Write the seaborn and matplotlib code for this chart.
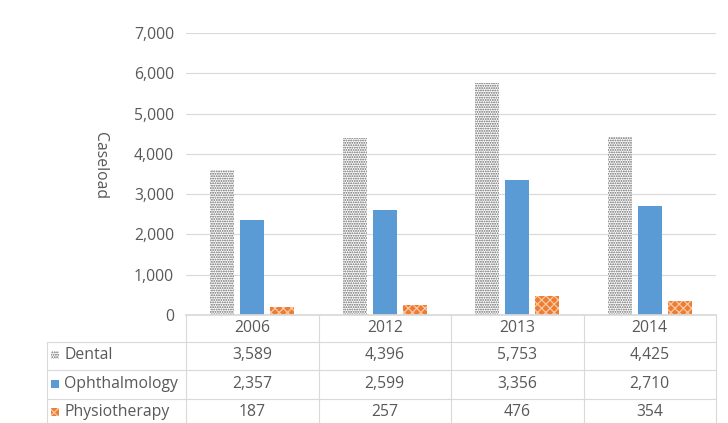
import matplotlib
matplotlib.use("Agg")
import matplotlib.pyplot as plt
import matplotlib.transforms as mtransforms
from matplotlib.patches import Rectangle
import seaborn as sns
import pandas as pd
import numpy as np

years = ["2006", "2012", "2013", "2014"]
series = ["Dental", "Ophthalmology", "Physiotherapy"]
dental = [3589, 4396, 5753, 4425]
ophthalmology = [2357, 2599, 3356, 2710]
physiotherapy = [187, 257, 476, 354]
y_ticks = [0, 1000, 2000, 3000, 4000, 5000, 6000, 7000]
y_label = "Caseload"

df = pd.DataFrame({
    "Year": years * 3,
    "Series": [s for s in series for _ in years],
    "Value": dental + ophthalmology + physiotherapy,
})

sns.set_theme(style="white")
plt.rcParams["font.family"] = ["Open Sans", "DejaVu Sans"]
plt.rcParams["hatch.linewidth"] = 0.9
TXT = "#595959"
FS = 11.3

fig = plt.figure(figsize=(7.28, 4.23), dpi=100)
W, H = 728, 423
AX_L, AX_R = 186, 716
ax = fig.add_axes([AX_L / W, 1 - 315 / H, (AX_R - AX_L) / W, (315 - 33) / H])

palette = {"Dental": "white", "Ophthalmology": "#5B9BD5", "Physiotherapy": "#ED7D31"}
sns.barplot(data=df, x="Year", y="Value", hue="Series", order=years, hue_order=series,
            palette=palette, ax=ax, width=0.68, gap=0.2, legend=False, saturation=1)

DENT_EC = "#666666"
PHYS_EC = "#F9C9A8"
for i, c in enumerate(ax.containers):
    for p in c:
        p.set_linewidth(0)
        if i == 0:
            p.set_facecolor("white")
            p.set_edgecolor(DENT_EC)
            p.set_hatch(".......")
        elif i == 2:
            p.set_facecolor("#ED7D31")
            p.set_edgecolor(PHYS_EC)
            p.set_hatch("xxxx")

ax.set_ylim(0, 7000)
ax.set_yticks(y_ticks)
ax.set_yticklabels([f"{v:,}" for v in y_ticks], color=TXT, fontsize=FS)
ax.tick_params(axis="y", length=0, pad=8.5)
ax.set_xlim(-0.5, len(years) - 0.5)
ax.set_xticks([])
ax.set_xlabel("")
ax.set_ylabel(y_label, rotation=270, color=TXT, fontsize=FS)
ax.yaxis.set_label_coords(-0.178, 0.53)
ax.grid(axis="y", color="#d9d9d9", linewidth=0.8)
ax.set_axisbelow(True)
for s in ["top", "right", "left"]:
    ax.spines[s].set_visible(False)
ax.spines["bottom"].set_color("#d9d9d9")

# data table below the axis
trans = mtransforms.blended_transform_factory(ax.transData, fig.transFigure)
def fy(py):
    return 1 - py / H

line_col = "#d9d9d9"
for py in [342, 370, 399]:
    fig.add_artist(plt.Line2D([47 / W, AX_R / W], [fy(py), fy(py)], color=line_col, lw=0.8))
for k in range(len(years) + 1):
    fig.add_artist(plt.Line2D([k - 0.5, k - 0.5], [fy(315), fy(423)], color=line_col, lw=0.8,
                              transform=trans))
fig.add_artist(plt.Line2D([47 / W, 47 / W], [fy(342), fy(423)], color=line_col, lw=0.8))

for k, y in enumerate(years):
    fig.text(k, fy(328), y, transform=trans, ha="center", va="center", color=TXT, fontsize=FS)

rows = [dental, ophthalmology, physiotherapy]
row_y = [355, 384, 412]
for r, (name, vals, py) in enumerate(zip(series, rows, row_y)):
    fc = ["white", "#5B9BD5", "#ED7D31"][r]
    hatch = [".......", None, "xxxx"][r]
    ec = [DENT_EC, "#5B9BD5", PHYS_EC][r]
    fig.add_artist(Rectangle((51 / W, fy(py + 4)), 8 / W, 8 / H, facecolor=fc, edgecolor=ec,
                             hatch=hatch, lw=0, transform=fig.transFigure))
    fig.text(64 / W, fy(py), name, ha="left", va="center", color=TXT, fontsize=FS)
    for k, v in enumerate(vals):
        fig.text(k, fy(py), f"{v:,}", transform=trans, ha="center", va="center",
                 color=TXT, fontsize=FS)

fig.savefig("out.png", dpi=100)
